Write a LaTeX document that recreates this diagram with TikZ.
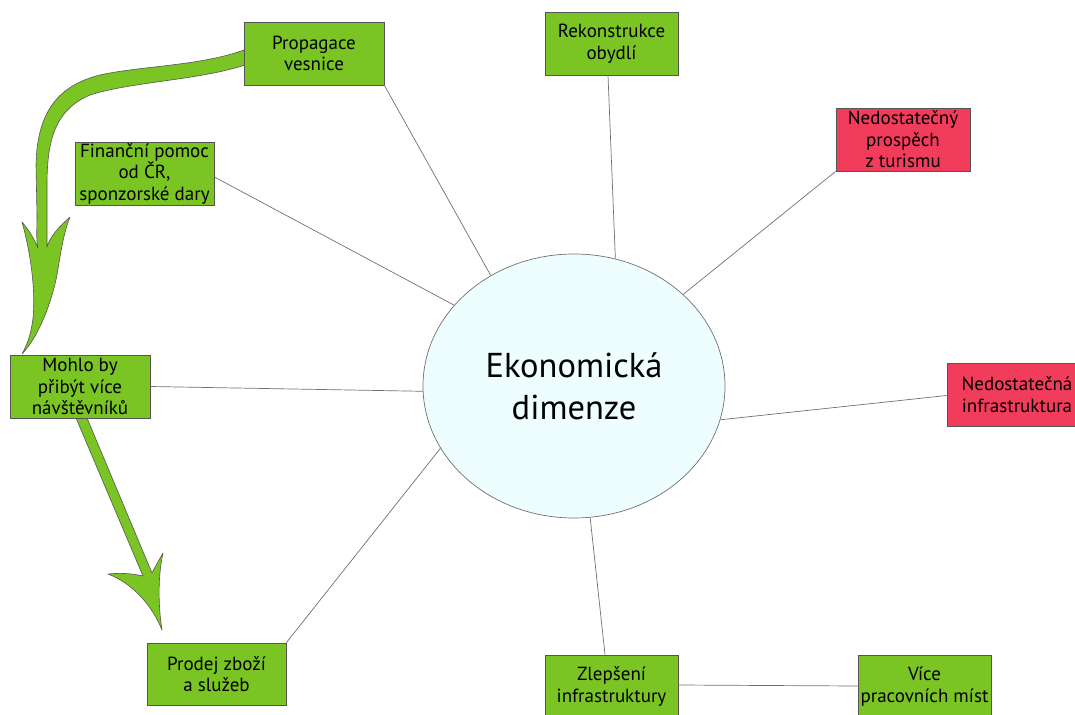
\documentclass[tikz,border=0pt]{standalone}
\usepackage{fontspec}
\setmainfont{PT Sans}
\usetikzlibrary{shapes.geometric,calc}
\definecolor{boxgreen}{HTML}{7AC524}
\definecolor{boxred}{HTML}{F23C5C}
\definecolor{ellfill}{HTML}{EEFDFE}
\definecolor{edgegray}{HTML}{555555}
\definecolor{linegray}{HTML}{707070}
\tikzset{
  box/.style={draw=edgegray, line width=0.8pt, minimum width=#1, minimum height=63pt, inner sep=0pt, align=center, font=\fontsize{19}{21.5}\selectfont},
  gbox/.style={box=#1, fill=boxgreen},
  rbox/.style={box=#1, fill=boxred},
  link/.style={draw=linegray, line width=0.7pt},
  bigarrow/.style={fill=boxgreen, draw=edgegray, line width=0.6pt, line join=round}
}
\begin{document}
\begin{tikzpicture}[x=1pt,y=-1pt]
\useasboundingbox (0,0) rectangle (1075,714);
% green curved arrow: Propagace -> Mohlo
\path[bigarrow] (244,50) .. controls (200,66) and (140,66) .. (100,75)
  .. controls (60,85) and (37,110) .. (36,165) -- (37,215)
  .. controls (37,230) and (36,240) .. (38,248)
  .. controls (33,236) and (27,228) .. (22,222)
  .. controls (30,250) and (36,290) .. (33,318)
  .. controls (31,335) and (27,345) .. (22,354)
  .. controls (40,335) and (52,300) .. (57,275)
  .. controls (61,250) and (64,232) .. (70,217)
  .. controls (60,226) and (50,236) .. (47,247) -- (47,185)
  .. controls (47,140) and (55,110) .. (90,95)
  .. controls (130,82) and (200,80) .. (245,65) -- cycle;
% green straight arrow: Mohlo -> Prodej
\path[bigarrow] (76,418) -- (143,576)
  .. controls (130,573) and (118,573) .. (108,574)
  .. controls (132,583) and (152,605) .. (162,630)
  .. controls (158,605) and (158,575) .. (163,553)
  .. controls (159,560) and (155,567) .. (152,573) -- (87,418) -- cycle;
% centre
\node[ellipse, draw=linegray, line width=0.7pt, fill=ellfill, minimum width=302pt, minimum height=264pt, inner sep=0pt, align=center, font=\fontsize{34.5}{42}\selectfont] (ell) at (574,386) {Ekonomická\\dimenze};
% boxes
\node[gbox=140pt] (prop) at (314,53.5) {Propagace\\vesnice};
\node[gbox=139pt] (fin) at (144.5,173.5) {Finanční pomoc\\od ČR,\\sponzorské dary};
\node[gbox=140pt] (mohlo) at (80,386.5) {Mohlo by\\přibýt více\\návštěvníků};
\node[gbox=139pt, minimum height=62pt] (prodej) at (216.5,674) {Prodej zboží\\a služeb};
\node[gbox=133pt] (rekon) at (611.5,43.5) {Rekonstrukce\\obydlí};
\node[rbox=134pt] (prosp) at (903,139.5) {Nedostatečný\\prospěch\\z turismu};
\node[rbox=140pt] (ninfra) at (1017,394.5) {Nedostatečná\\infrastruktura};
\node[gbox=133pt] (zlep) at (611.5,686.5) {Zlepšení\\infrastruktury};
\node[gbox=133pt] (vice) at (924.5,686.5) {Více\\pracovních míst};
% connectors
\draw[link] (prop.south east) -- (ell.127.7);
\draw[link] ($(fin.east)+(0,3.5)$) -- (ell.146.9);
\draw[link] (mohlo.east) -- (ell.182.7);
\draw[link] (prodej.north east) -- (ell.205.9);
\draw[link] ($(rekon.south)+(-3.5,0)$) -- (ell.72.8);
\draw[link] (prosp.south west) -- (ell.40.5);
\draw[link] ($(ninfra.west)+(0,1)$) -- (ell.-13.9);
\draw[link] ($(zlep.north)+(-6.5,0)$) -- (ell.-83.7);
\draw[link] ($(zlep.east)+(0,-1.5)$) -- ($(vice.west)+(0,-0.5)$);
\end{tikzpicture}
\end{document}
